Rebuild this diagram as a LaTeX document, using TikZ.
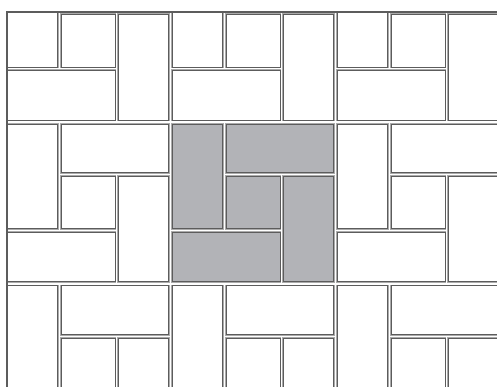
\documentclass[tikz,border=0pt]{standalone}
\definecolor{TILEgrey}{HTML}{B2B3B7}
\definecolor{TILEline}{HTML}{5C5C5C}
\definecolor{TILEhalo}{HTML}{ABABAB}
\usetikzlibrary{calc}
\tikzset{
   tile/.style={draw=TILEline, line width=0.9pt,
      preaction={draw=TILEhalo, line width=2.2pt}},
   frame/.style={draw=TILEline, line width=1.6pt}
}
% one pinwheel block: origin x, origin y, fill colour
\newcommand{\pinwheel}[3]{%
   \begin{scope}[shift={(#1,#2)}]
      \foreach \xa/\ya/\xb/\yb in {0/0/50.4/104.7, 53.7/0/161.4/48.7,
            53.7/52.3/108/104.7, 111/52.3/161.4/157.7, 0/108.3/108/157.7}
         \filldraw[tile, fill=#3] (\xa,\ya) rectangle (\xb,\yb);
   \end{scope}}
\begin{document}
\begin{tikzpicture}[x=1pt, y=-1pt]
      \useasboundingbox[fill=white] (0,0) rectangle (497,387);
      \begin{scope}
         \clip (7,12.3) rectangle (497,387);
         % white blocks
         \foreach \bx in {7.3,172.3,337.3}
            \foreach \by in {-37.7,124,285.7}
               \pinwheel{\bx}{\by}{white};
         % grey block in the middle
         \pinwheel{172.3}{124}{TILEgrey}
      \end{scope}
      % frame (left and top)
      \draw[frame] (6.9,387) |- (497,12.3);
   \end{tikzpicture}
\end{document}
